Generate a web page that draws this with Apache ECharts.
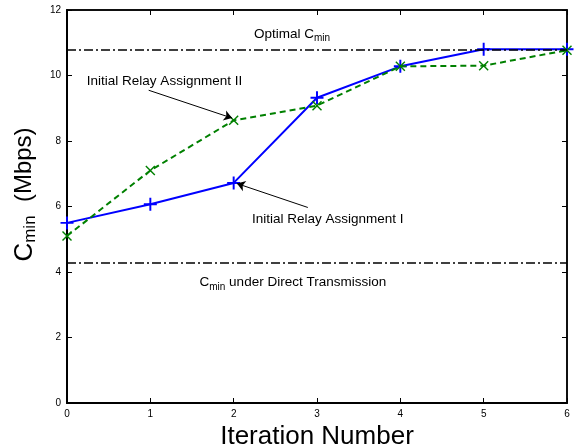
<!DOCTYPE html>
<html>
<head>
<meta charset="utf-8">
<script src="https://cdn.jsdelivr.net/npm/echarts@6/dist/echarts.min.js"></script>
<style>
  html, body { margin: 0; padding: 0; background: #fff; }
  #chart { width: 585px; height: 447px; }
</style>
</head>
<body>
<div id="chart"></div>
<script>
// values
const iterations = [0, 1, 2, 3, 4, 5, 6];
const assignI = [5.5, 6.07, 6.72, 9.32, 10.28, 10.8, 10.8];
const assignII = [5.1, 7.1, 8.63, 9.08, 10.28, 10.3, 10.77];
const optimalCmin = 10.8;
const directCmin = 4.27;
const xTicks = [0, 6, 1];   // min, max, step
const yTicks = [0, 12, 2];

const FONT = '"Liberation Sans", Arial, Helvetica, sans-serif';
const PLUS = 'path://M-1.5,-10H1.5V-1.5H10V1.5H1.5V10H-1.5V1.5H-10V-1.5H-1.5Z';
const CROSS = 'path://M-10,-8L-8,-10L0,-2L8,-10L10,-8L2,0L10,8L8,10L0,2L-8,10L-10,8L-2,0Z';

const chart = echarts.init(document.getElementById('chart'), null, { renderer: 'canvas' });

const pairs = (ys) => iterations.map((x, i) => [x, ys[i]]);

// annotation text, placed by data coordinate
function note(coord, text) {
    return { coord: coord, value: text };
}

const tick = { show: true, inside: true, length: 5, lineStyle: { color: '#000', width: 1 } };

const option = {
    animation: false,
    textStyle: { fontFamily: FONT },
    grid: {
        left: 67, right: 18, top: 10, bottom: 44,
        outerBoundsMode: 'none', containLabel: false,
        show: true, borderColor: '#000', borderWidth: 1.5
    },
    xAxis: [{
        type: 'value', min: xTicks[0], max: xTicks[1], interval: xTicks[2],
        name: 'Iteration Number', nameLocation: 'middle', nameGap: 13,
        nameTextStyle: { fontSize: 26, color: '#000', fontFamily: FONT },
        axisLine: { show: true, onZero: false, lineStyle: { color: '#000', width: 2 } },
        axisTick: tick,
        axisLabel: { fontSize: 10, color: '#000', margin: 6, fontFamily: FONT },
        splitLine: { show: false }
    }, {
        type: 'value', position: 'top', min: xTicks[0], max: xTicks[1], interval: xTicks[2],
        axisLine: { show: true, onZero: false, lineStyle: { color: '#000', width: 1.5 } },
        axisTick: tick,
        axisLabel: { show: false }, splitLine: { show: false }
    }],
    yAxis: [{
        type: 'value', min: yTicks[0], max: yTicks[1], interval: yTicks[2],
        name: '{c|C}{s|min}{n|  (Mbps)}', nameLocation: 'middle', nameGap: 22, nameRotate: 90,
        nameTextStyle: {
            color: '#000',
            padding: [0, 0, 0, 24],
            rich: {
                c: { fontSize: 26, fontFamily: FONT, color: '#000' },
                s: { fontSize: 17, fontFamily: FONT, color: '#000', padding: [12, 0, 0, 0] },
                n: { fontSize: 24, fontFamily: FONT, color: '#000' }
            }
        },
        axisLine: { show: true, onZero: false, lineStyle: { color: '#000', width: 2 } },
        axisTick: tick,
        axisLabel: { fontSize: 10, color: '#000', margin: 6, fontFamily: FONT },
        splitLine: { show: false }
    }, {
        type: 'value', position: 'right', min: yTicks[0], max: yTicks[1], interval: yTicks[2],
        axisLine: { show: true, onZero: false, lineStyle: { color: '#000', width: 1.5 } },
        axisTick: tick,
        axisLabel: { show: false }, splitLine: { show: false }
    }],
    series: [
        {
            // reference levels and their labels (on the mirrored top/right axes)
            name: 'ref', type: 'line', data: [], silent: true,
            xAxisIndex: 1, yAxisIndex: 1,
            markLine: {
                silent: true, symbol: 'none', animation: false,
                label: { show: false },
                lineStyle: { color: '#000', width: 1.6, type: [9, 3, 2, 3] },
                data: [{ yAxis: optimalCmin }, { yAxis: directCmin }]
            },
            markPoint: {
                silent: true, symbol: 'rect', symbolSize: 0,
                label: {
                    show: true, position: 'inside', color: '#000',
                    formatter: (p) => p.value,
                    rich: {
                        t: { fontSize: 13.5, fontFamily: FONT, color: '#000' },
                        s: { fontSize: 10, fontFamily: FONT, color: '#000', padding: [9, 0, 0, 0] }
                    }
                },
                data: [
                    note([2.7, 11.26], '{t|Optimal C}{s|min}'),
                    note([2.71, 3.68], '{t|C}{s|min}{t| under Direct Transmission}'),
                    note([1.17, 9.83], '{t|Initial Relay Assignment II}'),
                    note([3.13, 5.62], '{t|Initial Relay Assignment I}')
                ]
            }
        },
        {
            name: 'Initial Relay Assignment I', type: 'line', data: pairs(assignI),
            color: '#0000ff',
            lineStyle: { width: 2, color: '#0000ff' },
            symbol: PLUS, symbolSize: 13, showAllSymbol: true,
            itemStyle: { color: '#0000ff' },
            z: 3
        },
        {
            name: 'Initial Relay Assignment II', type: 'line', data: pairs(assignII),
            color: '#008000',
            lineStyle: { width: 2, color: '#008000', type: [6, 4] },
            symbol: CROSS, symbolSize: 10, showAllSymbol: true,
            itemStyle: { color: '#008000' },
            z: 4
        },
        {
            // annotation arrows
            name: 'arrows', type: 'line', data: [], silent: true,
            markLine: {
                silent: true, symbol: ['none', 'arrow'], symbolSize: 8, animation: false,
                label: { show: false },
                itemStyle: { color: '#000' },
                lineStyle: { color: '#000', width: 1, type: 'solid' },
                data: [
                    [{ coord: [0.98, 9.55] }, { coord: [1.98, 8.70] }],
                    [{ coord: [2.89, 5.97] }, { coord: [2.04, 6.70] }]
                ]
            },
            z: 5
        }
    ]
};

chart.setOption(option);
</script>
</body>
</html>
